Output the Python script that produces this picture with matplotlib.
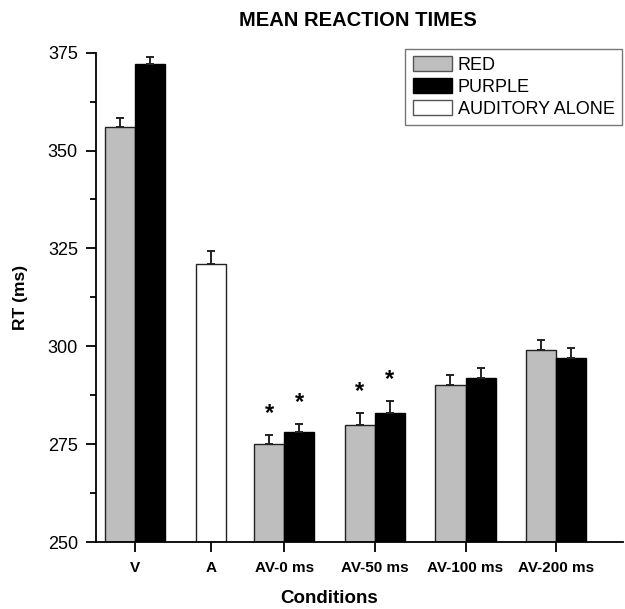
import numpy as np
import matplotlib
matplotlib.use('Agg')
import matplotlib.pyplot as plt
from matplotlib.patches import Patch

plt.rcParams['font.family'] = ['Liberation Sans', 'DejaVu Sans']

# data
conditions = ['V', 'A', 'AV-0 ms', 'AV-50 ms', 'AV-100 ms', 'AV-200 ms']
red_rt = [356, None, 275, 280, 290, 299]
red_err = [2.4, None, 2.4, 3.0, 2.7, 2.6]
purple_rt = [372, None, 278, 283, 292, 297]
purple_err = [2.0, None, 2.1, 3.0, 2.4, 2.5]
auditory_rt = 321
auditory_err = 3.3
red_sig = [False, False, True, True, False, False]
purple_sig = [False, False, True, True, False, False]

# layout (group centres as drawn in the original)
xpos = [0, 0.833, 1.644, 2.644, 3.644, 4.644]
width = 0.333
gray = '#bebebe'

fig = plt.figure(figsize=(6.25, 6.09), dpi=100)
ax = fig.add_axes([0.1536, 0.110, 0.843, 0.8035])

err_kw = dict(ecolor='#222222', elinewidth=1.4, capsize=3, capthick=1.4)

for i, name in enumerate(conditions):
    x = xpos[i]
    if red_rt[i] is None:
        ax.bar(x, auditory_rt - 250, bottom=250, width=width, color='white',
               edgecolor='#222222', linewidth=1.0)
        ax.errorbar(x, auditory_rt, yerr=[[0], [auditory_err]], fmt='none', **err_kw)
        continue
    xr = x - width / 2
    xp = x + width / 2
    ax.bar(xr, red_rt[i] - 250, bottom=250, width=width, color=gray,
           edgecolor='#222222', linewidth=1.0)
    ax.bar(xp, purple_rt[i] - 250, bottom=250, width=width, color='black',
           edgecolor='black', linewidth=1.0)
    ax.errorbar(xr, red_rt[i], yerr=[[0], [red_err[i]]], fmt='none', **err_kw)
    ax.errorbar(xp, purple_rt[i], yerr=[[0], [purple_err[i]]], fmt='none', **err_kw)
    if red_sig[i]:
        ax.annotate('*', (xr, red_rt[i] + red_err[i]), xytext=(0, 7),
                    textcoords='offset points', ha='center', va='bottom',
                    fontsize=17, fontweight='bold')
    if purple_sig[i]:
        ax.annotate('*', (xp, purple_rt[i] + purple_err[i]), xytext=(0, 7),
                    textcoords='offset points', ha='center', va='bottom',
                    fontsize=17, fontweight='bold')

ax.set_xlim(-0.433, 5.38)
ax.set_ylim(250, 375)
ax.set_yticks([250, 275, 300, 325, 350, 375])
ax.set_yticks(np.arange(262.5, 375, 25), minor=True)
ax.set_xticks(xpos)
ax.set_xticklabels(conditions, fontsize=11, fontweight='bold')
ax.tick_params(axis='y', which='major', direction='out', length=7, width=1.3,
               labelsize=13, pad=6)
ax.tick_params(axis='y', which='minor', direction='out', length=4, width=1.3)
ax.tick_params(axis='x', which='major', direction='out', length=7, width=1.3, pad=7)

for side in ['top', 'right']:
    ax.spines[side].set_visible(False)
for side in ['left', 'bottom']:
    ax.spines[side].set_linewidth(1.3)

ax.set_ylabel('RT (ms)', fontsize=12.5, fontweight='bold', labelpad=14)
fig.text(0.527, 0.018, 'Conditions', ha='center', va='center',
         fontsize=13.5, fontweight='bold')
fig.text(0.572, 0.967, 'MEAN REACTION TIMES', ha='center', va='center',
         fontsize=14.5, fontweight='bold')

handles = [Patch(facecolor=gray, edgecolor='#555555', label='RED'),
           Patch(facecolor='black', edgecolor='black', label='PURPLE'),
           Patch(facecolor='white', edgecolor='#555555', label='AUDITORY ALONE')]
leg = fig.legend(handles=handles, loc='upper right',
                 bbox_to_anchor=(0.995, 0.9195), fontsize=13, frameon=True,
                 fancybox=False, edgecolor='#555555', handlelength=2.2,
                 handleheight=0.85, handletextpad=0.3, labelspacing=0.25,
                 borderpad=0.4, borderaxespad=0)
leg.get_frame().set_linewidth(1.0)

fig.savefig('out.png', dpi=100)
